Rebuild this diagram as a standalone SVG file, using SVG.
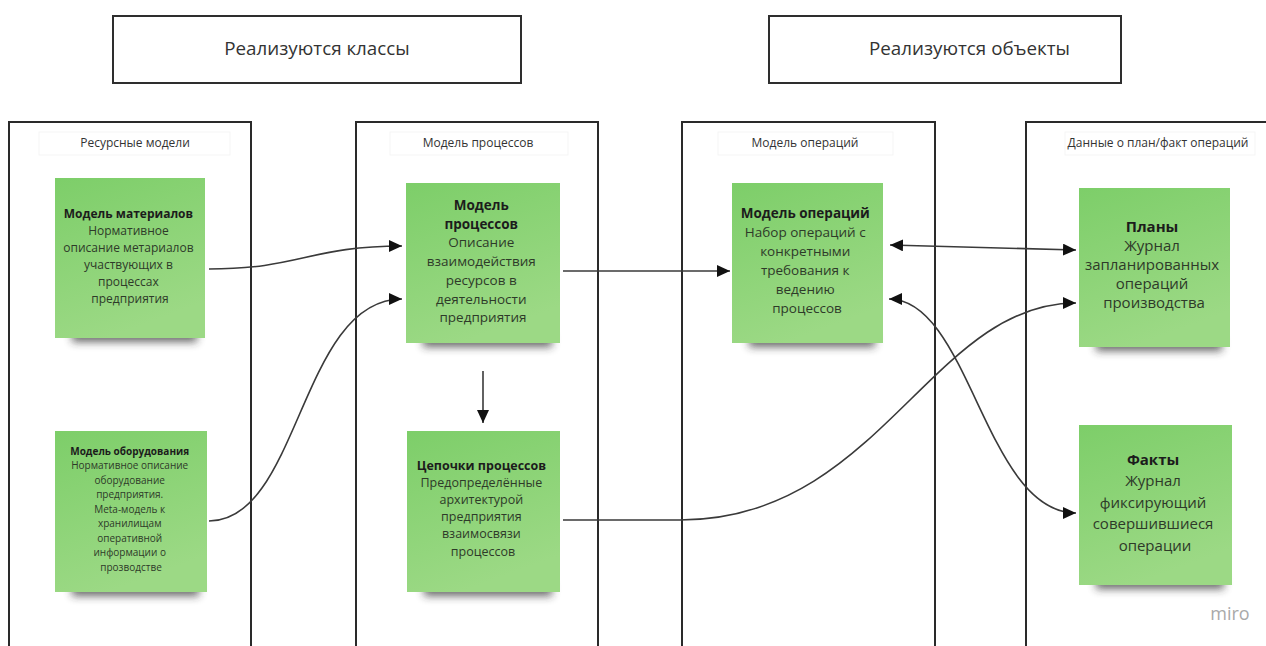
<svg xmlns="http://www.w3.org/2000/svg" width="1266" height="646" viewBox="0 0 1266 646">
<style>
.frame{fill:#fff;stroke:#2e2e2e;stroke-width:2}
.col{fill:none;stroke:#2a2a2a;stroke-width:2}
.lbox{fill:#fff;stroke:#f5f5f5;stroke-width:1}
.ltxt{font-family:"Open Sans","Liberation Sans",sans-serif;font-size:12px;fill:#333;text-anchor:middle}
.top{font-family:"Open Sans","Liberation Sans",sans-serif;font-size:18.8px;fill:#333}
.note{fill:url(#g)}
.sh{fill:#2a2a2a;opacity:0.7;filter:url(#blur)}
.t{font-family:"Open Sans","Liberation Sans",sans-serif;text-anchor:middle;fill:#2e3a29}
.b{font-weight:bold;fill:#1c1c1c}
.c{fill:none;stroke:#3a3a3a;stroke-width:1.6}
</style>
<defs>
<linearGradient id="g" x1="0" y1="0" x2="0.35" y2="1">
<stop offset="0" stop-color="#7dce69"/>
<stop offset="1" stop-color="#9cd985"/>
</linearGradient>
<filter id="blur" x="-20%" y="-100%" width="140%" height="300%"><feGaussianBlur stdDeviation="4.5"/></filter>
<marker id="a" markerUnits="userSpaceOnUse" markerWidth="13" markerHeight="12" refX="13" refY="6" orient="auto-start-reverse" viewBox="0 0 13 12">
<path d="M0,0 L13,6 L0,12 z" fill="#111"/>
</marker>
</defs>
<rect width="1266" height="646" fill="#fff"/>

<g id="top-classes">
<rect class="frame" x="113" y="16" width="408" height="67"/>
<text class="top" x="317" y="55" text-anchor="middle">Реализуются классы</text>
</g>
<g id="top-objects">
<rect class="frame" x="769" y="16" width="352" height="67"/>
<text class="top" x="869" y="55">Реализуются объекты</text>
</g>

<g id="col-resources">
<path class="col" d="M9,646 V122 H251 V646"/>
<rect class="lbox" x="39" y="132" width="191" height="23"/>
<text class="ltxt" x="135" y="147">Ресурсные модели</text>
</g>
<g id="col-processes">
<path class="col" d="M356,646 V122 H598 V646"/>
<rect class="lbox" x="390" y="132" width="178" height="23"/>
<text class="ltxt" x="478" y="147">Модель процессов</text>
</g>
<g id="col-operations">
<path class="col" d="M682,646 V122 H935 V646"/>
<rect class="lbox" x="718" y="132" width="175" height="23"/>
<text class="ltxt" x="805" y="147">Модель операций</text>
</g>
<g id="col-data">
<path class="col" d="M1026,646 V122 H1266"/>
<rect class="lbox" x="1065" y="132" width="190" height="23"/>
<text class="ltxt" x="1158" y="147">Данные о план/факт операций</text>
</g>

<g id="note-materials">
<rect class="sh" x="72" y="328" width="125" height="14"/>
<rect class="note" x="55" y="178" width="150" height="160"/>
<text class="t" font-size="12">
<tspan class="b" x="130" y="218">Модель материалов</tspan>
<tspan x="130" y="235">Нормативное</tspan>
<tspan x="130" y="252">описание метариалов</tspan>
<tspan x="130" y="269">участвующих в</tspan>
<tspan x="130" y="286">процессах</tspan>
<tspan x="130" y="303">предприятия</tspan>
</text>
</g>
<g id="note-equipment">
<rect class="sh" x="72" y="582" width="127" height="14"/>
<rect class="note" x="55" y="431" width="152" height="161"/>
<text class="t" font-size="10">
<tspan class="b" x="131" y="454.5">Модель оборудования</tspan>
<tspan x="131" y="469">Нормативное описание</tspan>
<tspan x="131" y="483.5">оборудование</tspan>
<tspan x="131" y="498">предприятия.</tspan>
<tspan x="131" y="512.5">Meta-модель к</tspan>
<tspan x="131" y="527">хранилищам</tspan>
<tspan x="131" y="541.5">оперативной</tspan>
<tspan x="131" y="556">информации о</tspan>
<tspan x="131" y="570.5">прозводстве</tspan>
</text>
</g>
<g id="note-process-model">
<rect class="sh" x="423" y="333" width="129" height="14"/>
<rect class="note" x="406" y="183" width="154" height="160"/>
<text class="t" font-size="13.5">
<tspan class="b" x="483" y="210">Модель</tspan>
<tspan class="b" x="483" y="228.7">процессов</tspan>
<tspan x="483" y="247.4">Описание</tspan>
<tspan x="483" y="266.1">взаимодействия</tspan>
<tspan x="483" y="284.8">ресурсов в</tspan>
<tspan x="483" y="303.5">деятельности</tspan>
<tspan x="483" y="322.2">предприятия</tspan>
</text>
</g>
<g id="note-process-chains">
<rect class="sh" x="424" y="582" width="128" height="14"/>
<rect class="note" x="407" y="431" width="153" height="161"/>
<text class="t" font-size="12.5">
<tspan class="b" x="483" y="469.5">Цепочки процессов</tspan>
<tspan x="483" y="486.7">Предопределённые</tspan>
<tspan x="483" y="503.9">архитектурой</tspan>
<tspan x="483" y="521.1">предприятия</tspan>
<tspan x="483" y="538.3">взаимосвязи</tspan>
<tspan x="483" y="555.5">процессов</tspan>
</text>
</g>
<g id="note-operations">
<rect class="sh" x="749" y="333" width="126" height="14"/>
<rect class="note" x="732" y="183" width="151" height="160"/>
<text class="t" font-size="13.5">
<tspan class="b" x="807" y="218">Модель операций</tspan>
<tspan x="807" y="237">Набор операций с</tspan>
<tspan x="807" y="256">конкретными</tspan>
<tspan x="807" y="275">требования к</tspan>
<tspan x="807" y="294">ведению</tspan>
<tspan x="807" y="313">процессов</tspan>
</text>
</g>
<g id="note-plans">
<rect class="sh" x="1096" y="337" width="126" height="14"/>
<rect class="note" x="1079" y="188" width="151" height="159"/>
<text class="t" font-size="15">
<tspan class="b" x="1154" y="232">Планы</tspan>
<tspan x="1154" y="251">Журнал</tspan>
<tspan x="1154" y="270">запланированных</tspan>
<tspan x="1154" y="289">операций</tspan>
<tspan x="1154" y="308">производства</tspan>
</text>
</g>
<g id="note-facts">
<rect class="sh" x="1096" y="575" width="128" height="14"/>
<rect class="note" x="1079" y="425" width="153" height="160"/>
<text class="t" font-size="15">
<tspan class="b" x="1155" y="464.5">Факты</tspan>
<tspan x="1155" y="486">Журнал</tspan>
<tspan x="1155" y="507.5">фиксирующий</tspan>
<tspan x="1155" y="529">совершившиеся</tspan>
<tspan x="1155" y="550.5">операции</tspan>
</text>
</g>

<g id="connectors">
<path class="c" d="M209,269 C300,269 310,246 402,246" marker-end="url(#a)"/>
<path class="c" d="M209,521 C300,521 300,299 402,299" marker-end="url(#a)"/>
<path class="c" d="M563,271 L730,271" marker-end="url(#a)"/>
<path class="c" d="M483,371 L483,423" marker-end="url(#a)"/>
<path class="c" d="M890,245 L1076,250" marker-start="url(#a)" marker-end="url(#a)"/>
<path class="c" d="M563,520 L680,520 C880,520 930,303 1076,303" marker-end="url(#a)"/>
<path class="c" d="M889,299 C970,299 985,513 1076,513" marker-start="url(#a)" marker-end="url(#a)"/>
</g>

<text x="1230" y="620" text-anchor="middle" font-family="Open Sans, Liberation Sans, sans-serif" font-size="18" fill="#a9a9a9">miro</text>
</svg>
